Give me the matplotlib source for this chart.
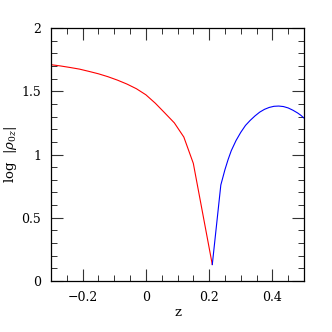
import matplotlib
matplotlib.use("Agg")
import matplotlib.pyplot as plt
from matplotlib.ticker import MultipleLocator, FuncFormatter

z_red = [-0.30, -0.27, -0.24, -0.21, -0.18, -0.15, -0.12, -0.09, -0.06, -0.03,
         0.00, 0.03, 0.06, 0.09, 0.12, 0.15, 0.18, 0.21]
logrho_red = [1.710, 1.700, 1.688, 1.675, 1.657, 1.638, 1.615, 1.588, 1.557, 1.520,
              1.472, 1.405, 1.328, 1.250, 1.138, 0.930, 0.530, 0.130]
z_blue = [0.21, 0.237, 0.25, 0.26, 0.27, 0.285, 0.30, 0.315, 0.33, 0.345, 0.36,
          0.375, 0.39, 0.405, 0.42, 0.435, 0.45, 0.465, 0.48, 0.49, 0.50]
logrho_blue = [0.130, 0.759, 0.880, 0.960, 1.030, 1.110, 1.175, 1.230, 1.270, 1.305, 1.335,
               1.357, 1.372, 1.381, 1.383, 1.379, 1.368, 1.350, 1.328, 1.310, 1.288]

plt.rcParams['font.family'] = ['DejaVu Serif']
plt.rcParams['mathtext.fontset'] = 'dejavuserif'

fig = plt.figure(figsize=(3.32, 3.32), dpi=100)
ax = fig.add_axes([51/332, 1 - 281/332, 253/332, 253/332])

ax.plot(z_red, logrho_red, color='#ff0000', lw=0.8)
ax.plot(z_blue, logrho_blue, color='#0000ff', lw=0.8)

ax.set_xlim(-0.3, 0.5)
ax.set_ylim(0, 2)
ax.xaxis.set_major_locator(MultipleLocator(0.2))
ax.xaxis.set_minor_locator(MultipleLocator(0.05))
ax.yaxis.set_major_locator(MultipleLocator(0.5))
ax.yaxis.set_minor_locator(MultipleLocator(0.1))

def fmt(v, pos):
    if abs(v) < 1e-9:
        return '0'
    s = ('%g' % round(v, 3))
    return s.replace('-', '\u2212')
ax.xaxis.set_major_formatter(FuncFormatter(fmt))
ax.yaxis.set_major_formatter(FuncFormatter(fmt))

ax.tick_params(which='both', direction='in', top=True, right=True, labelsize=9, color='#333333')
ax.tick_params(which='major', length=8.5, width=0.8, pad=7)
ax.tick_params(which='minor', length=4.5, width=0.7)
for s in ax.spines.values():
    s.set_linewidth(0.9)

ax.set_xlabel('z', fontsize=9.5, labelpad=2)
ax.set_ylabel(r'log  $|\rho_{0z}|$', fontsize=9.5, labelpad=2)

fig.savefig('out.png', dpi=100)
